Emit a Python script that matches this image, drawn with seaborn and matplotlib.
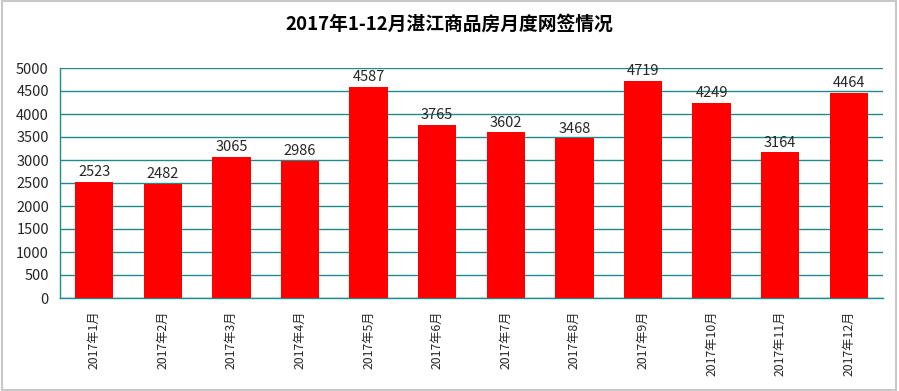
import matplotlib
matplotlib.use('Agg')
import matplotlib.pyplot as plt
import seaborn as sns
import numpy as np
import pandas as pd

sns.set_style('white')
plt.rcParams['font.family'] = ['Noto Sans CJK SC', 'DejaVu Sans']

# 数据
months = ['2017年%d月' % i for i in range(1, 13)]
sales = [2523, 2482, 3065, 2986, 4587, 3765, 3602, 3468, 4719, 4249, 3164, 4464]
yticks = list(range(0, 5001, 500))

df = pd.DataFrame({'month': months, 'sales': sales})

fig = plt.figure(figsize=(8.99, 3.91), dpi=100)
ax = fig.add_axes([60 / 899, 1 - 298 / 391, 823 / 899, 230 / 391])

teal = '#1f8a8a'
sns.barplot(data=df, x='month', y='sales', color='#ff0000', saturation=1,
            width=0.56, linewidth=0, ax=ax, zorder=3)

ax.set_ylim(0, 5000)
ax.set_xlim(-0.5, 11.5)
ax.set_yticks(yticks)
ax.grid(axis='y', color=teal, linewidth=1, zorder=0)
ax.set_axisbelow(True)
for s in ['top', 'right']:
    ax.spines[s].set_visible(False)
for s in ['left', 'bottom']:
    ax.spines[s].set_color(teal)
    ax.spines[s].set_linewidth(1)

ax.set_xlabel('')
ax.set_ylabel('')
ax.tick_params(axis='y', labelsize=10.5, length=0, pad=8)
ax.tick_params(axis='x', which='major', length=0, labelsize=8.8, rotation=90, pad=9)
ax.set_xticks(np.arange(-0.5, 12, 1), minor=True)
ax.tick_params(axis='x', which='minor', length=4, color=teal, direction='out')

for i, v in enumerate(sales):
    ax.text(i, v + 60, str(v), ha='center', va='bottom', fontsize=10.5, zorder=4)

fig.text(0.5, 1 - 24 / 391, '2017年1-12月湛江商品房月度网签情况', ha='center', va='center',
         fontsize=13.5, fontweight='bold', color='black')

# 外框
fig.patches.append(plt.Rectangle((0.002, 0.003), 0.995, 0.994, transform=fig.transFigure,
                                 fill=False, edgecolor='#c8c8c8', linewidth=1.5))

fig.savefig('out.png', dpi=100)
